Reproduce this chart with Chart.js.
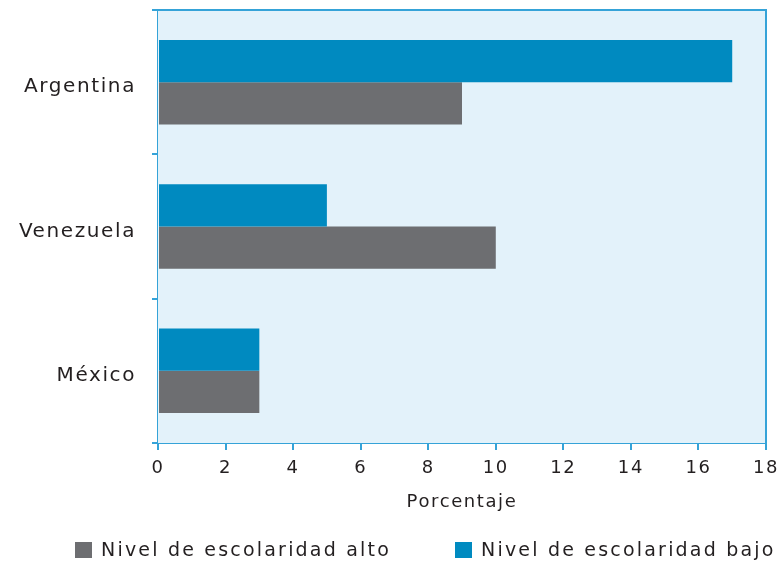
<!DOCTYPE html>
<html>
<head>
<meta charset="utf-8">
<script src="https://cdn.jsdelivr.net/npm/chart.js@4"></script>
<style>
  html, body { margin: 0; padding: 0; background: #fff; }
  #wrap { position: relative; width: 783px; height: 561px; }
  #legend { position: absolute; left: 0; top: 538px; width: 783px; height: 24px;
            font-family: "DejaVu Sans", sans-serif; font-size: 19px; color: #231f20; letter-spacing: 2.2px; }
  .item { position: absolute; top: 0; white-space: nowrap; line-height: 22px; }
  .box { display: inline-block; width: 17px; height: 16px; vertical-align: -2px; margin-right: 9px; }
</style>
</head>
<body>
<div id="wrap">
  <canvas id="bar-chart" width="783" height="561"></canvas>
  <div id="legend"></div>
</div>
<script>
let countries = ['Argentina', 'Venezuela', 'México'];
let bajo = [17, 5, 3];
let alto = [9, 10, 3];
let xTicks = [0, 2, 4, 6, 8, 10, 12, 14, 16, 18];

const BLUE = '#008ac0';
const GRAY = '#6d6e71';
const LINE = '#35a3d8';
const INK = '#231f20';

// light blue plot area with a thin blue frame
const plotFrame = {
    id: 'plotFrame',
    beforeDraw(chart) {
        chart.ctx.letterSpacing = '1.6px';
    },
    beforeDatasetsDraw(chart) {
        const a = chart.chartArea, ctx = chart.ctx;
        ctx.save();
        ctx.fillStyle = '#e3f2fa';
        ctx.fillRect(a.left, a.top, a.right - a.left, a.bottom - a.top);
        ctx.restore();
    },
    afterDatasetsDraw(chart) {
        const a = chart.chartArea, ctx = chart.ctx;
        ctx.save();
        ctx.strokeStyle = LINE;
        ctx.lineWidth = 2;
        ctx.beginPath();
        ctx.moveTo(a.left - 6, a.top);
        ctx.lineTo(a.right, a.top);
        ctx.lineTo(a.right, a.bottom);
        ctx.stroke();
        ctx.restore();
    }
};

Chart.defaults.font.family = '"DejaVu Sans", sans-serif';
Chart.defaults.color = INK;

let chart = new Chart(document.getElementById('bar-chart').getContext('2d'), {
    type: 'bar',
    data: {
        labels: countries,
        datasets: [{
            label: 'Nivel de escolaridad bajo',
            backgroundColor: BLUE,
            data: bajo
        }, {
            label: 'Nivel de escolaridad alto',
            backgroundColor: GRAY,
            data: alto
        }]
    },
    options: {
        indexAxis: 'y',
        responsive: false,
        animation: false,
        layout: { autoPadding: false, padding: { top: 10, right: 17, left: 0, bottom: 44 } },
        datasets: { bar: { categoryPercentage: 0.585, barPercentage: 1.0 } },
        scales: {
            x: {
                min: 0,
                max: 18,
                afterBuildTicks(scale) { scale.ticks = xTicks.map(v => ({ value: v })); },
                afterFit(scale) { scale.height = 74; scale.paddingLeft = 0; scale.paddingRight = 0; },
                border: { color: LINE, width: 2 },
                grid: { drawOnChartArea: false, color: LINE, lineWidth: 2, tickLength: 7 },
                ticks: { font: { size: 18 }, color: INK, padding: 8, maxRotation: 0 },
                title: { display: true, text: 'Porcentaje', font: { size: 18 }, color: INK, padding: { top: 4, bottom: 4 } }
            },
            y: {
                afterFit(scale) { scale.width = 158; scale.paddingTop = 0; scale.paddingBottom = 0; },
                border: { color: LINE, width: 2 },
                grid: { drawOnChartArea: false, color: LINE, lineWidth: 2, tickLength: 6, offset: true },
                ticks: { font: { size: 20 }, color: INK, padding: 16, labelOffset: 5 }
            }
        },
        plugins: {
            legend: { display: false },
            tooltip: { enabled: false }
        }
    },
    plugins: [plotFrame]
});

// legend below the chart, alto first like the original
let legendItems = [
    { text: chart.data.datasets[1].label, color: GRAY, left: 75 },
    { text: chart.data.datasets[0].label, color: BLUE, left: 455 }
];
let legendEl = document.getElementById('legend');
legendItems.forEach(function (it) {
    let d = document.createElement('div');
    d.className = 'item';
    d.style.left = it.left + 'px';
    let b = document.createElement('span');
    b.className = 'box';
    b.style.background = it.color;
    d.appendChild(b);
    d.appendChild(document.createTextNode(it.text));
    legendEl.appendChild(d);
});
</script>
</body>
</html>
